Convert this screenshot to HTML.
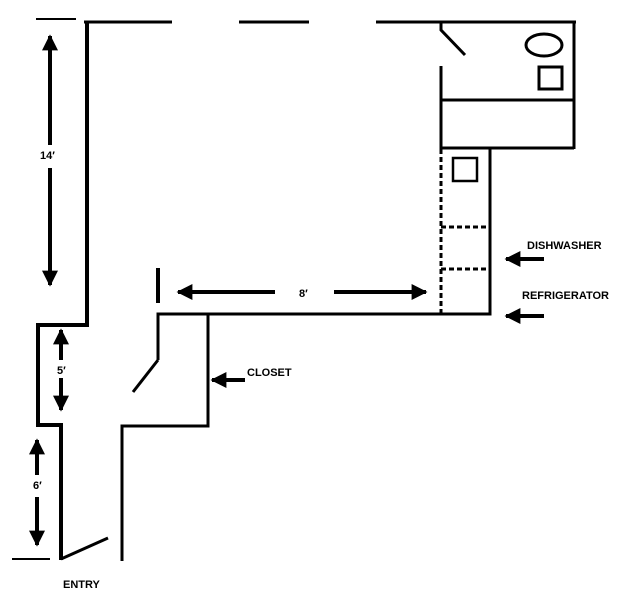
<!DOCTYPE html>
<html><head><style>
html,body{margin:0;padding:0;background:#fff;width:628px;height:600px;overflow:hidden}
svg text{font-family:"Liberation Sans",sans-serif;font-weight:bold;font-size:11px;fill:#000}
</style></head><body>
<svg width="628" height="600" viewBox="0 0 628 600" xmlns="http://www.w3.org/2000/svg">
<defs>
<marker id="ah" viewBox="0 0 10 10" refX="9" refY="5" markerWidth="4" markerHeight="4" orient="auto-start-reverse"><path d="M0,0 L10,5 L0,10 z" fill="#000"/></marker>
</defs>
<g stroke="#000" fill="none" stroke-linecap="butt">
<!-- top -->
<line x1="36" y1="19" x2="76" y2="19" stroke-width="2"/>
<line x1="84" y1="22" x2="172" y2="22" stroke-width="3"/>
<line x1="239" y1="22" x2="309" y2="22" stroke-width="3"/>
<line x1="376" y1="22" x2="576" y2="22" stroke-width="3"/>
<!-- left wall -->
<polyline points="87,22 87,325 38,325 38,425 61,425 61,560" stroke-width="4"/>
<line x1="61" y1="559" x2="108" y2="538" stroke-width="3"/>
<line x1="12" y1="559" x2="50" y2="559" stroke-width="2"/>
<!-- closet -->
<polyline points="122,561 122,426 208,426 208,314" stroke-width="3"/>
<polyline points="158,360 158,314 490,314 490,148" stroke-width="3"/>
<line x1="158" y1="360" x2="133" y2="392" stroke-width="3"/>
<line x1="158" y1="268" x2="158" y2="303" stroke-width="4"/>
<!-- kitchen -->
<line x1="441" y1="66" x2="441" y2="149" stroke-width="3"/>
<line x1="441" y1="149" x2="441" y2="314" stroke-width="3" stroke-dasharray="5,3"/>
<polyline points="441,22 441,30 465,55" stroke-width="3"/>
<polyline points="441,100 574,100 574,22" stroke-width="3"/>
<line x1="441" y1="148" x2="574" y2="148" stroke-width="3"/>
<line x1="574" y1="100" x2="574" y2="149" stroke-width="3"/>
<rect x="453" y="158" width="24" height="23" stroke-width="2.5"/>
<line x1="441" y1="227" x2="489" y2="227" stroke-width="3" stroke-dasharray="5,3"/>
<line x1="441" y1="269" x2="489" y2="269" stroke-width="3" stroke-dasharray="5,3"/>
<ellipse cx="544" cy="45" rx="18" ry="11" stroke-width="3"/>
<rect x="539" y="67" width="23" height="22" stroke-width="3"/>
<!-- arrows -->
<g stroke-width="4">
<line x1="50" y1="36" x2="50" y2="145" marker-start="url(#ah)"/>
<line x1="50" y1="168" x2="50" y2="285" marker-end="url(#ah)"/>
<line x1="61" y1="330" x2="61" y2="360" marker-start="url(#ah)"/>
<line x1="61" y1="378" x2="61" y2="410" marker-end="url(#ah)"/>
<line x1="37" y1="440" x2="37" y2="475" marker-start="url(#ah)"/>
<line x1="37" y1="497" x2="37" y2="545" marker-end="url(#ah)"/>
<line x1="178" y1="292" x2="275" y2="292" marker-start="url(#ah)"/>
<line x1="334" y1="292" x2="426" y2="292" marker-end="url(#ah)"/>
<line x1="245" y1="380" x2="212" y2="380" marker-end="url(#ah)"/>
<line x1="544" y1="259" x2="506" y2="259" marker-end="url(#ah)"/>
<line x1="544" y1="316" x2="506" y2="316" marker-end="url(#ah)"/>
</g>
</g>
<text x="40" y="159">14′</text>
<text x="57" y="374">5′</text>
<text x="33" y="489">6′</text>
<text x="299" y="297">8′</text>
<text x="247" y="376">CLOSET</text>
<text x="527" y="249">DISHWASHER</text>
<text x="522" y="299">REFRIGERATOR</text>
<text x="63" y="588">ENTRY</text>
</svg>
</body></html>
